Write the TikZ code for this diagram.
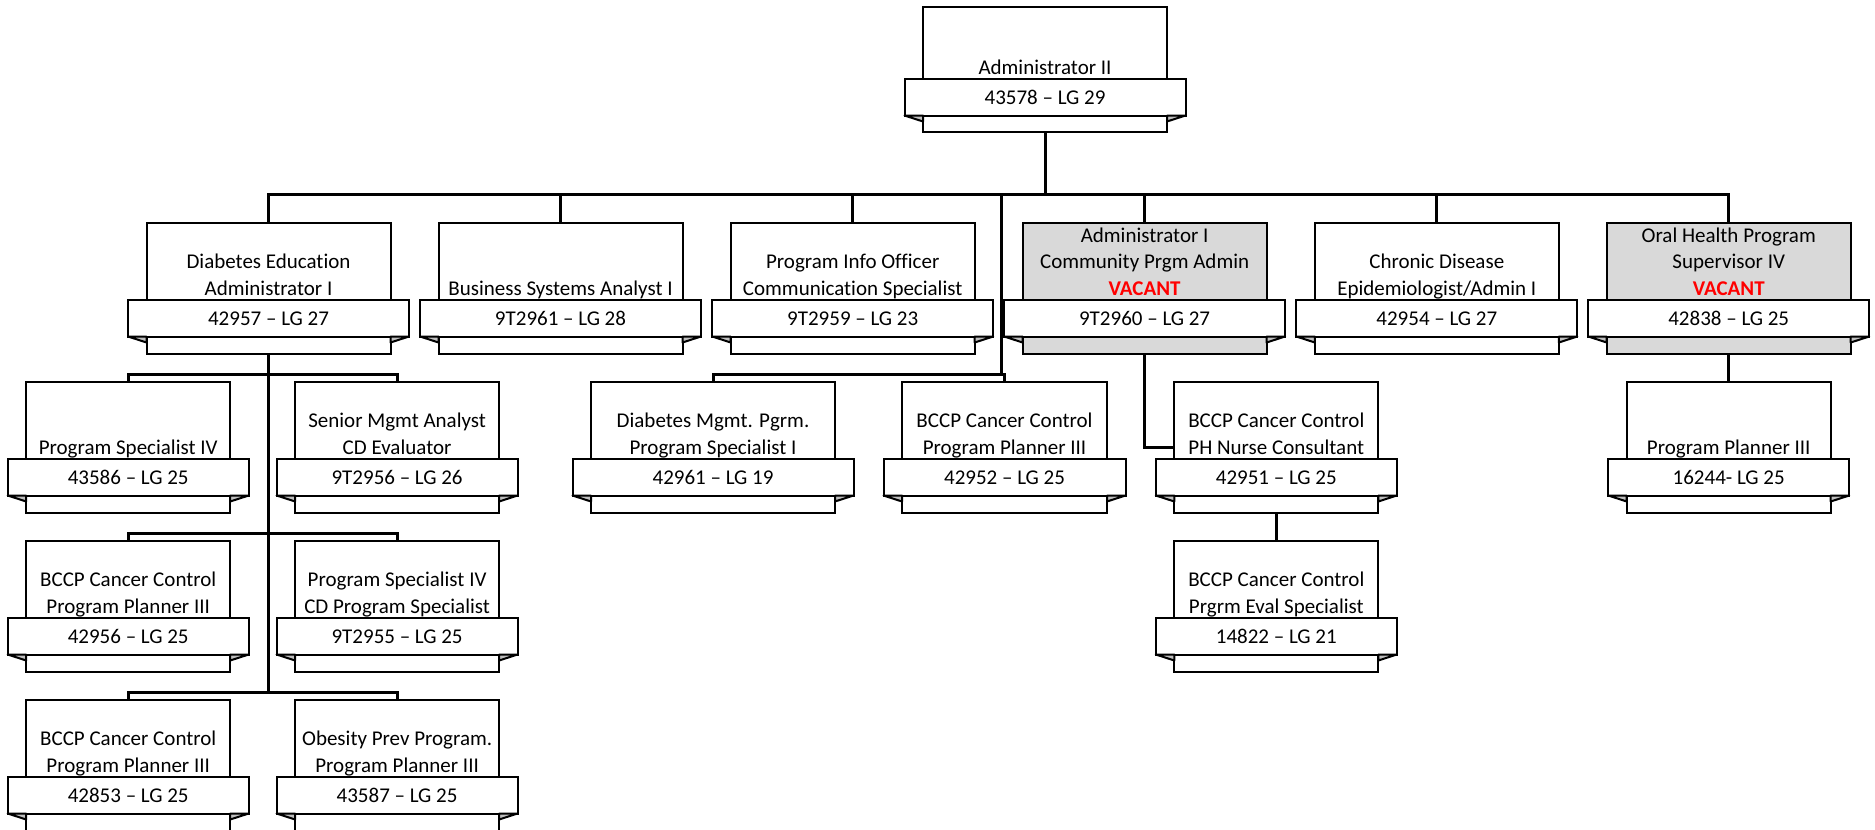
\documentclass[tikz,border=0pt]{standalone}
\usepackage{fontspec}
\setmainfont{Carlito}[Ligatures=NoCommon]
\pgfdeclarelayer{background}
\pgfsetlayers{background,main}
\definecolor{boxgray}{HTML}{D9D9D9}
\definecolor{foldgray}{HTML}{BFBFBF}
\definecolor{vacred}{HTML}{FF0000}
\newcommand{\vac}{\textcolor{vacred}{\bfseries VACANT}}
\tikzset{
  boxline/.style={draw=black, line width=2pt, outer sep=0pt},
  conn/.style={draw=black, line width=3pt},
  ttl/.style={anchor=base, inner sep=0pt, font=\fontsize{21}{26}\selectfont},
}
\newcommand{\orgnode}[9]{%
  \pgfmathsetmacro{\OBxl}{#2-#4/2}%
  \pgfmathsetmacro{\OBxr}{#2+#4/2}%
  \pgfmathsetmacro{\OBbt}{#3+#6}%
  \pgfmathsetmacro{\OBbb}{#3+#6+36.5}%
  \pgfmathsetmacro{\OBbase}{#3+#6+25.5}%
  \node[boxline, fill=#7, inner sep=0pt, minimum width=#4, minimum height=#5, anchor=north] (#1) at (#2,#3) {};
  \node[boxline, fill=white, inner sep=0pt, minimum width=#4+37, minimum height=36.5, anchor=north] (#1-b) at (#2,\OBbt) {};
  \node[ttl] (#1-n) at (#2,\OBbase) {#9};
  \draw[boxline, fill=foldgray, line join=round] (#1-b.south west) -- (\OBxl,\OBbb+6) -- (\OBxl,\OBbb) -- cycle;
  \draw[boxline, fill=foldgray, line join=round] (#1-b.south east) -- (\OBxr,\OBbb+6) -- (\OBxr,\OBbb) -- cycle;
  \foreach \OBline [count=\OBn] in {#8} {\xdef\OBcount{\OBn}}%
  \foreach \OBline [count=\OBn] in {#8} {%
    \pgfmathsetmacro{\OBy}{\OBbt-5-26.5*(\OBcount-\OBn)}%
    \node[ttl] (#1-t\OBn) at (#2,\OBy) {\OBline};
  }%
}
\begin{document}
\begin{tikzpicture}[x=1pt,y=-1pt]
\useasboundingbox (0,0) rectangle (1875,830);
\clip (0,0) rectangle (1875,830);
% level 1
\orgnode{a2}{1045}{7}{244}{125}{72}{white}{{Administrator II}}{43578 – LG 29}
% level 2
\orgnode{de}{268.5}{223}{244}{131}{77}{white}{{Diabetes Education},{Administrator I}}{42957 – LG 27}
\orgnode{bsa}{560.5}{223}{244}{131}{77}{white}{{Business Systems Analyst I}}{9T2961 – LG 28}
\orgnode{pio}{852.7}{223}{244}{131}{77}{white}{{Program Info Officer},{Communication Specialist}}{9T2959 – LG 23}
\orgnode{a1}{1144.6}{223}{244}{131}{77}{boxgray}{{Administrator I},{Community Prgm Admin},{\vac}}{9T2960 – LG 27}
\orgnode{cde}{1436.8}{223}{244}{131}{77}{white}{{Chronic Disease},{Epidemiologist/Admin I}}{42954 – LG 27}
\orgnode{oh}{1728.7}{223}{244}{131}{77}{boxgray}{{Oral Health Program},{Supervisor IV},{\vac}}{42838 – LG 25}
% level 3
\orgnode{ps4}{128.2}{382}{204}{131}{77}{white}{{Program Specialist IV}}{43586 – LG 25}
\orgnode{sma}{397.1}{382}{204}{131}{77}{white}{{Senior Mgmt Analyst},{CD Evaluator}}{9T2956 – LG 26}
\orgnode{dmp}{713}{382}{244}{131}{77}{white}{{Diabetes Mgmt. Pgrm.},{Program Specialist I}}{42961 – LG 19}
\orgnode{bcc}{1004.5}{382}{205}{131}{77}{white}{{BCCP Cancer Control},{Program Planner III}}{42952 – LG 25}
\orgnode{phn}{1276.3}{382}{204}{131}{77}{white}{{BCCP Cancer Control},{PH Nurse Consultant}}{42951 – LG 25}
\orgnode{pp3}{1728.7}{382}{204}{131}{77}{white}{{Program Planner III}}{16244- LG 25}
% level 4
\orgnode{bcd}{128.2}{541}{204}{131}{77}{white}{{BCCP Cancer Control},{Program Planner III}}{42956 – LG 25}
\orgnode{psb}{397.1}{541}{204}{131}{77}{white}{{Program Specialist IV},{CD Program Specialist}}{9T2955 – LG 25}
\orgnode{pes}{1276.3}{541}{204}{131}{77}{white}{{BCCP Cancer Control},{Prgrm Eval Specialist}}{14822 – LG 21}
% level 5
\orgnode{bce}{128.2}{700}{204}{131}{77}{white}{{BCCP Cancer Control},{Program Planner III}}{42853 – LG 25}
\orgnode{opp}{397.1}{700}{204}{131}{77}{white}{{Obesity Prev Program.},{Program Planner III}}{43587 – LG 25}
% connectors
\coordinate (bus1) at (0,194);
\coordinate (mx) at (1001.5,194);
\coordinate (bus2) at (0,374.5);
\coordinate (bus4) at (0,533.5);
\coordinate (bus5) at (0,692.5);
\begin{pgfonlayer}{background}
\draw[conn] (a2.south) -- (a2.south |- bus1);
\draw[conn] (de.north) -- (de.north |- bus1) -- (oh.north |- bus1) -- (oh.north);
\draw[conn] (bsa.north) -- (bsa.north |- bus1);
\draw[conn] (pio.north) -- (pio.north |- bus1);
\draw[conn] (a1.north) -- (a1.north |- bus1);
\draw[conn] (cde.north) -- (cde.north |- bus1);
\draw[conn] (mx) -- (mx |- bus2) -- (dmp.north |- bus2) -- (dmp.north);
\draw[conn] (mx |- bus2) -- (bcc.north |- bus2) -- (bcc.north);
\draw[conn] (de.south) -- (de.south |- bus5);
\draw[conn] (ps4.north) -- (ps4.north |- bus2) -- (sma.north |- bus2) -- (sma.north);
\draw[conn] (bcd.north) -- (bcd.north |- bus4) -- (psb.north |- bus4) -- (psb.north);
\draw[conn] (bce.north) -- (bce.north |- bus5) -- (opp.north |- bus5) -- (opp.north);
\draw[conn] (a1.south) |- (phn.west);
\draw[conn] (phn.south) -- (pes.north);
\draw[conn] (oh.south) -- (pp3.north);
\end{pgfonlayer}
\end{tikzpicture}
\end{document}
